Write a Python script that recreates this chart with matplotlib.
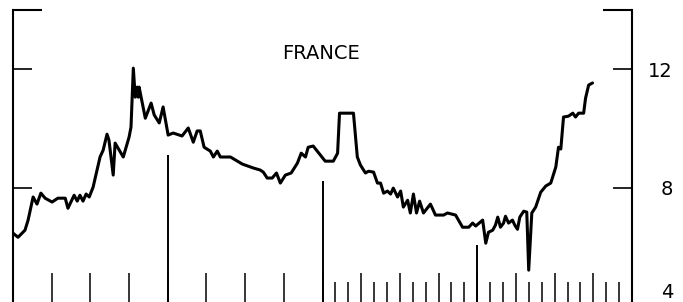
import matplotlib
matplotlib.use("Agg")
import matplotlib.pyplot as plt
import numpy as np

# ---- data (time in years from start of chart, value in %) ----
t = [0.00, 0.13, 0.31, 0.39, 0.52, 0.62, 0.72, 0.83, 1.01, 1.16, 1.35, 1.42, 1.58, 1.66,
     1.73, 1.81, 1.89, 1.97, 2.07, 2.25, 2.33, 2.43, 2.48, 2.59, 2.64, 2.85, 3.00, 3.05,
     3.11, 3.16, 3.21, 3.24, 3.26, 3.42, 3.57, 3.65, 3.78, 3.88, 4.01, 4.14, 4.37, 4.53,
     4.66, 4.76, 4.84, 4.94, 5.10, 5.18, 5.28, 5.36, 5.62, 5.75, 5.93, 6.21, 6.39, 6.47,
     6.57, 6.70, 6.81, 6.91, 7.04, 7.19, 7.35, 7.45, 7.56, 7.63, 7.76, 7.95, 8.07, 8.28,
     8.39, 8.44, 8.80, 8.90, 8.98, 9.11, 9.19, 9.32, 9.42, 9.50, 9.58, 9.68, 9.76, 9.83,
     9.94, 10.02, 10.09, 10.20, 10.27, 10.35, 10.43, 10.51, 10.61, 10.79, 10.92, 11.13,
     11.23, 11.44, 11.62, 11.78, 11.88, 11.96, 12.14, 12.22, 12.29, 12.40, 12.47, 12.53,
     12.60, 12.68, 12.73, 12.81, 12.91, 12.97, 13.04, 13.10, 13.20, 13.28, 13.33, 13.41,
     13.51, 13.64, 13.77, 13.90, 14.03, 14.10, 14.16, 14.23, 14.36, 14.47, 14.54, 14.62,
     14.75, 14.80, 14.88, 14.98]
v = [6.46, 6.32, 6.56, 6.90, 7.68, 7.44, 7.81, 7.64, 7.51, 7.64, 7.64, 7.30, 7.74, 7.54,
     7.74, 7.54, 7.78, 7.68, 8.01, 9.03, 9.26, 9.80, 9.60, 8.42, 9.50, 9.03, 9.70, 10.04,
     12.03, 11.05, 11.39, 11.05, 11.39, 10.34, 10.85, 10.45, 10.18, 10.72, 9.77, 9.84, 9.74, 10.01,
     9.53, 9.91, 9.91, 9.36, 9.23, 9.03, 9.23, 9.03, 9.03, 8.93, 8.79, 8.66, 8.59, 8.52,
     8.32, 8.32, 8.49, 8.15, 8.42, 8.49, 8.82, 9.16, 9.03, 9.36, 9.40, 9.09, 8.89, 8.89,
     9.16, 10.51, 10.51, 9.03, 8.76, 8.49, 8.55, 8.52, 8.15, 8.15, 7.81, 7.88, 7.78, 7.98,
     7.68, 7.88, 7.34, 7.57, 7.14, 7.78, 7.14, 7.54, 7.14, 7.44, 7.07, 7.07,
     7.14, 7.07, 6.66, 6.66, 6.80, 6.70, 6.90, 6.12, 6.49, 6.56, 6.73, 7.00,
     6.66, 6.80, 7.03, 6.80, 6.90, 6.73, 6.59, 7.00, 7.20, 7.17, 5.21, 7.14,
     7.34, 7.84, 8.05, 8.15, 8.69, 9.36, 9.30, 10.38, 10.41, 10.51, 10.38, 10.51,
     10.51, 11.02, 11.46, 11.53]

year_ticks = list(range(1, 16))
third_ticks = [8 + k / 3 for k in range(1, 24) if k % 3 != 0]
marker_years = [4, 8, 12]
marker_tops = [9.1, 8.22, 6.05]
y_ticks = [8, 12]
y_labels = ["8", "12"]
title = "FRANCE"

fig = plt.figure(figsize=(6.83, 3.02), dpi=100)
ax = fig.add_axes([13 / 683, -4 / 302, 619 / 683, 296.2 / 302])
ax.set_xlim(0, 16)
ax.set_ylim(4, 14)

ax.plot(t, v, color="black", lw=2.2, solid_joinstyle="round", solid_capstyle="round")

# spines
for s in ["top", "bottom"]:
    ax.spines[s].set_visible(False)
for s in ["left", "right"]:
    ax.spines[s].set_linewidth(1.5)
# short top corner pieces
ax.plot([0, 0.047], [1, 1], transform=ax.transAxes, color="black", lw=1.5, clip_on=False,
        solid_capstyle="butt")
ax.plot([0.953, 1], [1, 1], transform=ax.transAxes, color="black", lw=1.5, clip_on=False,
        solid_capstyle="butt")

# x ticks
ax.set_xticks(year_ticks)
ax.set_xticks(third_ticks, minor=True)
ax.tick_params(axis="x", which="major", direction="in", length=23.8, width=1.1,
               labelbottom=False, bottom=True, top=False)
ax.tick_params(axis="x", which="minor", direction="in", length=17.3, width=1.1,
               labelbottom=False, bottom=True, top=False)
ax.vlines(marker_years, 4, marker_tops, color="black", lw=1.4)

# y ticks
ax.set_yticks(y_ticks)
ax.set_yticklabels(y_labels)
ax.tick_params(axis="y", which="major", direction="in", length=13.7, width=1.2,
               left=True, right=True, labelleft=False, labelright=True, labelsize=14,
               pad=29.5)
for tk in ax.yaxis.get_major_ticks():
    tk.label2.set_horizontalalignment("right")
ax.annotate("4", xy=(1, 4), xycoords=("axes fraction", "data"), xytext=(41, 13),
            textcoords="offset pixels", ha="right", va="center", fontsize=14)

ax.text(0.4976, 0.854, title, transform=ax.transAxes, ha="center", va="center",
        fontsize=14)

fig.savefig("out.png", dpi=100)
